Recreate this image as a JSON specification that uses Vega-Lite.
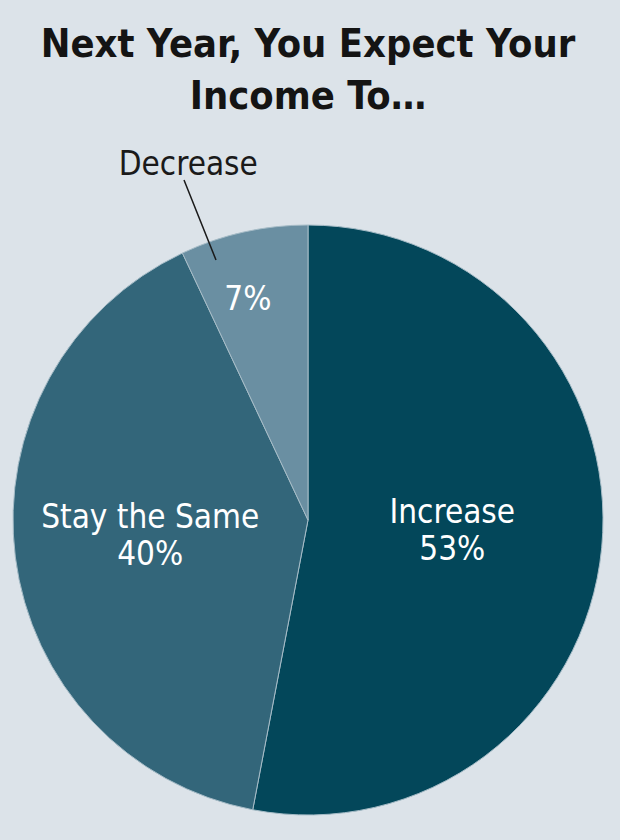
{
  "$schema": "https://vega.github.io/schema/vega-lite/v6.json",
  "width": 616,
  "height": 640,
  "autosize": {"type": "none"},
  "padding": {"top": 200, "left": 0, "right": 4, "bottom": 0},
  "background": "#dce3e9",
  "view": {"stroke": null},
  "title": {
    "text": ["Next Year, You Expect Your", "Income To…"],
    "font": "DejaVu Sans Condensed",
    "fontSize": 39.5,
    "fontWeight": "bold",
    "color": "#141414",
    "anchor": "middle",
    "frame": "group",
    "baseline": "alphabetic",
    "lineHeight": 52,
    "offset": 0
  },
  "data": {
    "values": [
      {"answer": "Increase", "pct": 0.53, "order": 1},
      {"answer": "Stay the Same", "pct": 0.40, "order": 2},
      {"answer": "Decrease", "pct": 0.07, "order": 3}
    ]
  },
  "encoding": {
    "theta": {"field": "pct", "type": "quantitative", "stack": true},
    "order": {"field": "order", "type": "quantitative"}
  },
  "layer": [
    {
      "mark": {"type": "arc", "outerRadius": 295, "stroke": "#a6bcc7", "strokeWidth": 1},
      "encoding": {
        "color": {
          "field": "answer",
          "type": "nominal",
          "scale": {"domain": ["Increase", "Stay the Same", "Decrease"], "range": ["#03475a", "#33667a", "#6a8fa2"]},
          "legend": null
        }
      }
    },
    {
      "mark": {"type": "text", "radius": 152, "dx": -7, "dy": -11, "baseline": "alphabetic", "align": "center", "fontSize": 33, "font": "DejaVu Sans Condensed", "fill": "#ffffff"},
      "encoding": {
        "text": {"field": "answer", "type": "nominal"},
        "opacity": {"condition": {"test": "datum.answer === 'Decrease'", "value": 0}, "value": 1}
      }
    },
    {
      "mark": {"type": "text", "radius": 152, "dx": -7, "dy": 26, "baseline": "alphabetic", "align": "center", "fontSize": 33, "font": "DejaVu Sans Condensed", "fill": "#ffffff"},
      "encoding": {
        "text": {"field": "pct", "type": "quantitative", "format": ".0%"},
        "opacity": {"condition": {"test": "datum.answer === 'Decrease'", "value": 0}, "value": 1}
      }
    },
    {
      "mark": {"type": "text", "radius": 230, "dx": -10, "dy": 14, "baseline": "alphabetic", "align": "center", "fontSize": 33, "font": "DejaVu Sans Condensed", "fill": "#ffffff"},
      "encoding": {
        "text": {"field": "pct", "type": "quantitative", "format": ".0%"},
        "opacity": {"condition": {"test": "datum.answer === 'Decrease'", "value": 1}, "value": 0}
      }
    },
    {
      "mark": {"type": "text", "radius": 370, "dx": -39, "dy": 16, "baseline": "alphabetic", "align": "center", "fontSize": 33, "font": "DejaVu Sans Condensed", "fill": "#1a1a1a"},
      "encoding": {
        "text": {"field": "answer", "type": "nominal"},
        "opacity": {"condition": {"test": "datum.answer === 'Decrease'", "value": 1}, "value": 0}
      }
    },
    {
      "data": {"values": [{"answer": "Decrease"}]},
      "mark": {"type": "rule", "color": "#1a1a1a", "strokeWidth": 1.5},
      "encoding": {
        "theta": null,
        "order": null,
        "x": {"datum": -124, "type": "quantitative", "scale": {"domain": [-308, 308]}, "axis": null},
        "y": {"datum": 340, "type": "quantitative", "scale": {"domain": [-320, 320]}, "axis": null},
        "x2": {"datum": -92},
        "y2": {"datum": 260}
      }
    }
  ]
}
